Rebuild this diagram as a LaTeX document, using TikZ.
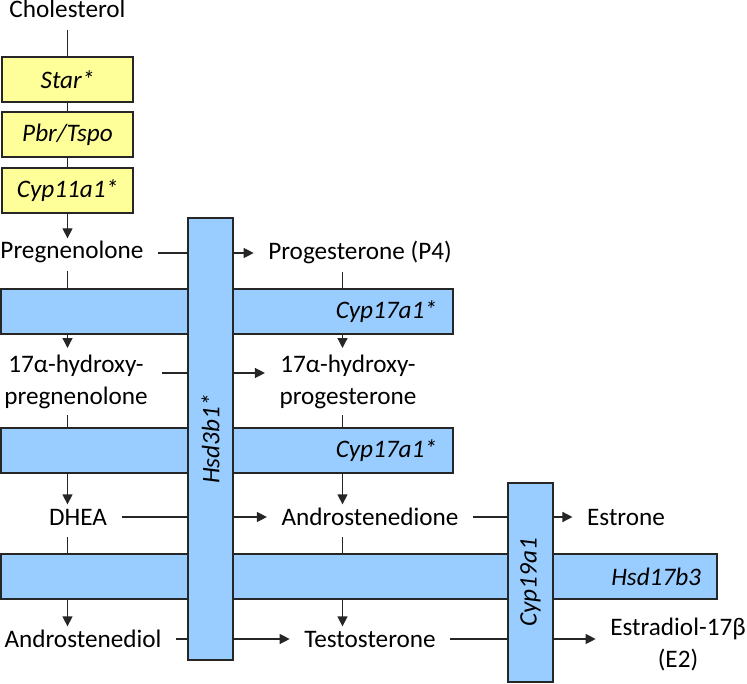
\documentclass[tikz,border=0pt]{standalone}
\usepackage{fontspec}
\setmainfont{Carlito}
\usetikzlibrary{arrows.meta}
\definecolor{genyellow}{HTML}{FFFF99}
\definecolor{genblue}{HTML}{99CCFF}
\definecolor{edgegray}{HTML}{262626}

\begin{document}
\begin{tikzpicture}[x=0.5pt, y=-0.5pt, line width=0.65pt, draw=edgegray,
    >={Triangle[length=5pt,width=5pt]},
    every node/.style={font=\fontsize{12.6}{16}\selectfont},
    compound/.style={inner xsep=7pt, inner ysep=3pt, text height=0.7em, text depth=0.25em, anchor=base},
    twoline/.style={inner xsep=7pt, inner ysep=3pt, align=center, anchor=north},
    gene/.style={draw=edgegray, font=\fontsize{12.6}{16}\selectfont\itshape, inner sep=0pt, minimum height=22.5pt},
    ybox/.style={gene, fill=genyellow, minimum width=65.5pt},
    hbar/.style={gene, fill=genblue, inner xsep=8pt, align=right},
    vbar/.style={gene, fill=genblue, minimum width=22.5pt, minimum height=#1}]
  \useasboundingbox (0,0) rectangle (747,683);

  % columns and rows
  \coordinate (lc) at (67.5,0);
  \coordinate (rc) at (342.5,0);
  \coordinate (r1) at (0,253);
  \coordinate (r2) at (0,373);
  \coordinate (r3) at (0,517);
  \coordinate (r4) at (0,639);

  % compounds
  \node[compound] (chol) at (67.5,18) {Cholesterol};
  \node[compound] (preg) at (72,259) {Pregnenolone};
  \node[compound] (prog) at (360,260) {Progesterone (P4)};
  \node[twoline] (ohpreg) at (76,348) {17α-hydroxy-\\pregnenolone};
  \node[twoline] (ohprog) at (348,348) {17α-hydroxy-\\progesterone};
  \node[compound] (dhea) at (78,525) {DHEA};
  \node[compound] (andro) at (370,525) {Androstenedione};
  \node[compound] (estrone) at (626,525) {Estrone};
  \node[compound] (adiol) at (83,647) {Androstenediol};
  \node[compound] (testo) at (370,647) {Testosterone};
  \node[twoline] (e2) at (678,611) {Estradiol-17β\\(E2)};

  % enzymes
  \node[ybox] (star) at (67.5,79.5) {Star*};
  \node[ybox] (pbr) at (67.5,134.5) {Pbr/Tspo};
  \node[ybox] (cyp11) at (67.5,190.5) {Cyp11a1*};
  \node[hbar, text width=210pt] (cyp17a) at (227,311.5) {Cyp17a1*};
  \node[hbar, text width=210pt] (cyp17b) at (227,450.5) {Cyp17a1*};
  \node[hbar, text width=342pt] (hsd17) at (359,576.5) {Hsd17b3};
  \node[vbar=221pt] (hsd3b1) at (210.5,439) {\rotatebox{90}{Hsd3b1*}};
  \node[vbar=99.5pt] (cyp19) at (530.5,582.5) {\rotatebox{90}{Cyp19a1}};

  % down the columns
  \path
  (lc |- chol.south) edge (lc |- star.north)
  (lc |- star.south) edge (lc |- pbr.north)
  (lc |- pbr.south) edge (lc |- cyp11.north)
  (lc |- cyp11.south) edge[->] (lc |- preg.north)
  (lc |- preg.south) edge (lc |- cyp17a.north)
  (lc |- cyp17a.south) edge[->] (lc |- ohpreg.north)
  (lc |- ohpreg.south) edge (lc |- cyp17b.north)
  (lc |- cyp17b.south) edge[->] (lc |- dhea.north)
  (lc |- dhea.south) edge (lc |- hsd17.north)
  (lc |- hsd17.south) edge[->] (lc |- adiol.north)
  (rc |- prog.south) edge (rc |- cyp17a.north)
  (rc |- cyp17a.south) edge[->] (rc |- ohprog.north)
  (rc |- ohprog.south) edge (rc |- cyp17b.north)
  (rc |- cyp17b.south) edge[->] (rc |- andro.north)
  (rc |- andro.south) edge (rc |- hsd17.north)
  (rc |- hsd17.south) edge[->] (rc |- testo.north)
  ;
  % across the rows
  \path
  (preg.east |- r1) edge (hsd3b1.west |- r1)
  (hsd3b1.east |- r1) edge[->] (prog.west |- r1)
  (ohpreg.east |- r2) edge (hsd3b1.west |- r2)
  (hsd3b1.east |- r2) edge[->] (ohprog.west |- r2)
  (dhea.east |- r3) edge (hsd3b1.west |- r3)
  (hsd3b1.east |- r3) edge[->] (andro.west |- r3)
  (andro.east |- r3) edge (cyp19.west |- r3)
  (cyp19.east |- r3) edge[->] (estrone.west |- r3)
  (adiol.east |- r4) edge (hsd3b1.west |- r4)
  (hsd3b1.east |- r4) edge[->] (testo.west |- r4)
  (testo.east |- r4) edge (cyp19.west |- r4)
  (cyp19.east |- r4) edge[->] (e2.west |- r4)
  ;
\end{tikzpicture}
\end{document}
